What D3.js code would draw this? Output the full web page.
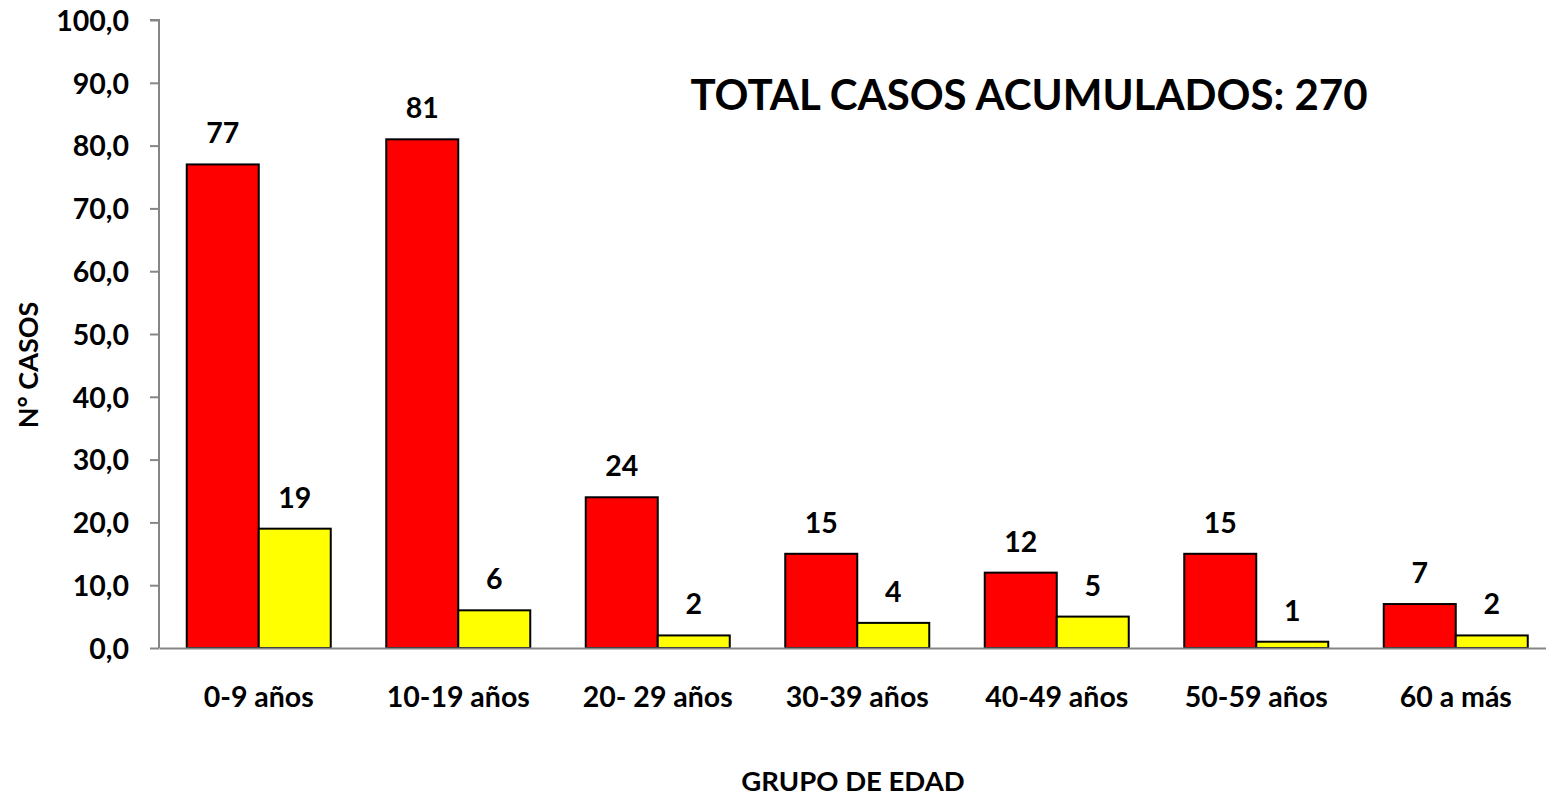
<!DOCTYPE html>
<html>
<head>
<meta charset="utf-8">
<script src="https://cdn.jsdelivr.net/npm/d3@7"></script>
<style>
  html, body { margin: 0; padding: 0; background: #fff; }
  svg { display: block; font-family: Lato, "Open Sans", sans-serif; font-weight: bold; }
</style>
</head>
<body>
<svg id="chart" width="1546" height="798"></svg>
<script>
const categories = ["0-9 años", "10-19 años", "20- 29 años", "30-39 años", "40-49 años", "50-59 años", "60 a más"];
const seriesNames = ["A", "B"];
const seriesA = [77, 81, 24, 15, 12, 15, 7];
const seriesB = [19, 6, 2, 4, 5, 1, 2];
const seriesColors = ["#ff0000", "#ffff00"];
const yTicks = [0, 10, 20, 30, 40, 50, 60, 70, 80, 90, 100];
const titleText = "TOTAL CASOS ACUMULADOS: 270";
const xTitle = "GRUPO DE EDAD";
const yTitle = "N° CASOS";

const svg = d3.select("#chart");
const mLeft = 159, mRight = 1555.5, mTop = 20, mBottom = 648;

const x = d3.scaleBand().domain(categories).range([mLeft, mRight]).paddingInner(55.5 / 199.5).paddingOuter(55.5 / 199.5 / 2);
const xs = d3.scaleBand().domain(seriesNames).range([0, x.bandwidth()]);
const y = d3.scaleLinear().domain([0, 100]).range([mBottom, mTop]);

const rows = categories.map((c, i) => ({ cat: c, vals: [seriesA[i], seriesB[i]] }));

// y axis
const yAxis = svg.append("g").attr("transform", `translate(${mLeft},0)`)
  .call(d3.axisLeft(y).tickValues(yTicks).tickSize(9).tickPadding(21).tickFormat(d => d3.format(".1f")(d).replace(".", ",")));
yAxis.select(".domain").attr("stroke", "#868686").attr("stroke-width", 2).attr("d", `M-9,${mTop}H0V${mBottom}`);
yAxis.selectAll(".tick line").attr("stroke", "#868686").attr("stroke-width", 2);
yAxis.selectAll(".tick text").attr("font-size", 28.5).attr("font-family", "Lato").attr("font-weight", "bold").attr("fill", "#000").attr("dy", "0.36em");

// groups & bars
const g = svg.append("g").selectAll("g").data(rows).join("g")
  .attr("transform", d => `translate(${x(d.cat)},0)`);
g.selectAll("rect").data(d => d.vals.map((v, j) => ({ s: seriesNames[j], v, j }))).join("rect")
  .attr("x", d => xs(d.s))
  .attr("width", xs.bandwidth())
  .attr("y", d => y(d.v))
  .attr("height", d => y(0) - y(d.v))
  .attr("fill", d => seriesColors[d.j])
  .attr("stroke", "#000")
  .attr("stroke-width", 2);
g.selectAll("text.val").data(d => d.vals.map((v, j) => ({ s: seriesNames[j], v, j }))).join("text")
  .attr("class", "val")
  .attr("x", d => xs(d.s) + xs.bandwidth() / 2)
  .attr("y", d => y(d.v) - 21)
  .attr("text-anchor", "middle")
  .attr("font-size", 28.5)
  .text(d => d.v);

// baseline (x axis)
const xAxis = svg.append("g").attr("transform", `translate(0,${mBottom})`)
  .call(d3.axisBottom(x).tickSize(0).tickPadding(59));
xAxis.select(".domain").attr("stroke", "#868686").attr("stroke-width", 2);
xAxis.selectAll(".tick text").attr("font-size", 28.5).attr("font-family", "Lato").attr("font-weight", "bold").attr("fill", "#000").attr("dy", "0");

// titles
svg.append("text").attr("x", 1029).attr("y", 110).attr("text-anchor", "middle").attr("font-size", 42).text(titleText);
svg.append("text").attr("x", 853).attr("y", 791).attr("text-anchor", "middle").attr("font-size", 27.5).text(xTitle);
svg.append("text").attr("transform", "translate(38,365) rotate(-90)").attr("text-anchor", "middle").attr("font-size", 27).text(yTitle);
</script>
</body>
</html>
